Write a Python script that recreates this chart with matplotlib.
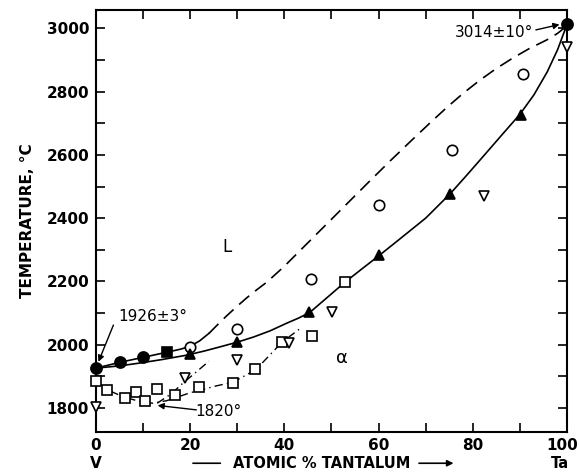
import matplotlib
matplotlib.use('Agg')
import matplotlib.pyplot as plt
from matplotlib.ticker import MultipleLocator

plt.rcParams['font.family'] = ['DejaVu Sans']

# ── measured points (atomic % Ta, temperature °C) ──
fcirc_x = [0, 5, 10, 100]
fcirc_y = [1926, 1945, 1960, 3014]
fsq_x = [15]
fsq_y = [1976]
ocirc_x = [20, 30, 45.6, 60.1, 75.5, 90.7]
ocirc_y = [1993, 2049, 2208, 2443, 2614, 2855]
ftri_x = [20, 30, 45.3, 60, 75.2, 90.2]
ftri_y = [1970, 2008, 2102, 2284, 2477, 2725]
dtri_x = [0, 18.9, 30, 40.9, 50.1, 82.3, 100]
dtri_y = [1803, 1894, 1952, 2005, 2102, 2471, 2942]
osq_x = [0, 2.3, 6.2, 8.5, 10.4, 12.9, 16.7, 21.8, 29.1, 33.8, 39.6, 45.9, 52.9]
osq_y = [1886, 1857, 1833, 1851, 1822, 1861, 1840, 1866, 1880, 1923, 2008, 2028, 2199]

# ── curves ──
liq_solid_x = [0, 5, 10, 15, 18, 20, 22, 24]
liq_solid_y = [1926, 1944, 1960, 1976, 1986, 1995, 2012, 2036]
liq_dash_x = [24, 26, 27.8, 30, 32, 34, 36.3, 40, 43.3, 46.8, 50.3, 54, 57.5, 62.4,
              67.3, 71, 74.5, 78, 81.5, 85, 88.5, 92, 95.8, 98, 100]
liq_dash_y = [2036, 2066, 2092, 2122, 2148, 2172, 2198, 2248, 2297, 2349, 2401, 2456,
              2508, 2580, 2650, 2702, 2750, 2795, 2836, 2873, 2906, 2936, 2964, 2984, 3008]
sol_x = [0, 5, 9.3, 14, 19.3, 23, 26.3, 30, 33.4, 37, 40.5, 43, 45.4, 49, 52.9, 56.5,
         60.3, 64.5, 70, 75.2, 78.8, 82.5, 86, 90, 93, 95.8, 98, 100]
sol_y = [1926, 1933, 1942, 1953, 1967, 1980, 1993, 2008, 2024, 2044, 2068, 2084, 2102,
         2148, 2198, 2240, 2284, 2334, 2400, 2477, 2537, 2600, 2660, 2728, 2790, 2862,
         2932, 3012]
low_x = [0, 2.3, 6, 9, 12, 15, 20, 25.6, 29, 32, 34, 36.5, 39.5, 43.7]
low_y = [1886, 1858, 1834, 1822, 1815, 1823, 1848, 1870, 1881, 1905, 1922, 1961, 2008, 2055]
steep_x = [13, 16, 18.5, 21, 24]
steep_y = [1815, 1845, 1879, 1910, 1948]

xticks = [0, 20, 40, 60, 80, 100]
xticklabels = ['0', '20', '40', '60', '80', '']   # "100" placed by hand (edge)

fig = plt.figure(figsize=(5.8, 4.75), dpi=100)
ax = fig.add_axes([0.1655, 0.0905, 0.812, 0.8885])
ax.set_xlim(0, 100)
ax.set_ylim(1724, 3058)

lw = 1.2
ax.plot(liq_solid_x, liq_solid_y, color='black', lw=lw, solid_joinstyle='round')
ax.plot(liq_dash_x, liq_dash_y, color='black', lw=lw, dashes=(8, 4.5))
ax.plot(sol_x, sol_y, color='black', lw=lw, solid_joinstyle='round')
ax.plot(low_x, low_y, color='black', lw=1.0, dashes=(6, 3, 1, 3))
ax.plot(steep_x, steep_y, color='black', lw=1.0, dashes=(6, 3, 1, 3))

ms = 7.5
mk = dict(linestyle='none', clip_on=False, zorder=5, mew=1.2)
ax.plot(osq_x, osq_y, marker='s', ms=ms - 0.5, mfc='white', mec='black', **mk)
ax.plot(dtri_x, dtri_y, marker='v', ms=ms, mfc='white', mec='black', **mk)
ax.plot(ocirc_x, ocirc_y, marker='o', ms=ms, mfc='white', mec='black', **mk)
ax.plot(ftri_x, ftri_y, marker='^', ms=ms, mfc='black', mec='black', **mk)
ax.plot(fsq_x, fsq_y, marker='s', ms=ms - 0.5, mfc='black', mec='black', **mk)
ax.plot(fcirc_x, fcirc_y, marker='o', ms=ms + 0.5, mfc='black', mec='black', **mk)

# axes and ticks
for sp in ax.spines.values():
    sp.set_linewidth(1.5)
ax.set_xticks(xticks, labels=xticklabels)
ax.xaxis.set_minor_locator(MultipleLocator(10))
ax.yaxis.set_major_locator(MultipleLocator(200))
ax.yaxis.set_minor_locator(MultipleLocator(100))
ax.tick_params(which='both', direction='in', top=True, right=True,
               length=6.5, width=1.2)
ax.tick_params(axis='x', pad=4)
ax.tick_params(axis='y', pad=5)
for lab in ax.get_xticklabels() + ax.get_yticklabels():
    lab.set_fontsize(11)
    lab.set_fontweight('bold')
ax.text(0.99, -0.0133, '100', transform=ax.transAxes, ha='center', va='top',
        fontsize=11, fontweight='bold')

ax.set_ylabel('TEMPERATURE, °C', fontsize=11, fontweight='bold', labelpad=8)

# x label with arrow
ly = -0.074
ax.text(0.48, ly, 'ATOMIC % TANTALUM', transform=ax.transAxes,
        ha='center', va='center', fontsize=10.5, fontweight='bold')
ax.annotate('', xy=(0.27, ly), xytext=(0.2, ly),
            xycoords='axes fraction', textcoords='axes fraction',
            arrowprops=dict(arrowstyle='-', lw=1.2, color='black'))
ax.annotate('', xy=(0.765, ly), xytext=(0.68, ly),
            xycoords='axes fraction', textcoords='axes fraction',
            arrowprops=dict(arrowstyle='-|>', lw=1.2, color='black',
                            mutation_scale=9))
ax.text(0.0, ly, 'V', transform=ax.transAxes, ha='center', va='center',
        fontsize=11, fontweight='bold')
ax.text(0.985, ly, 'Ta', transform=ax.transAxes, ha='center', va='center',
        fontsize=10.5, fontweight='bold')

# region labels
ax.text(27.8, 2310, 'L', fontsize=12, ha='center', va='center')
ax.text(52.2, 1957, 'α', fontsize=13, ha='center', va='center')

# annotations
arr = dict(arrowstyle='-|>', lw=1.0, color='black', mutation_scale=9,
           shrinkA=0, shrinkB=2)
ax.text(12, 2088, '1926±3°', fontsize=11, ha='center', va='center')
ax.annotate('', xy=(0.3, 1938), xytext=(3.7, 2062), arrowprops=arr)
ax.text(26, 1790, '1820°', fontsize=11, ha='center', va='center')
ax.annotate('', xy=(12.5, 1809), xytext=(21.3, 1794), arrowprops=arr)
ax.text(84.5, 2988, '3014±10°', fontsize=11, ha='center', va='center')
ax.annotate('', xy=(99.0, 3014), xytext=(93.4, 2995), arrowprops=arr)

fig.savefig('out.png', dpi=100)
